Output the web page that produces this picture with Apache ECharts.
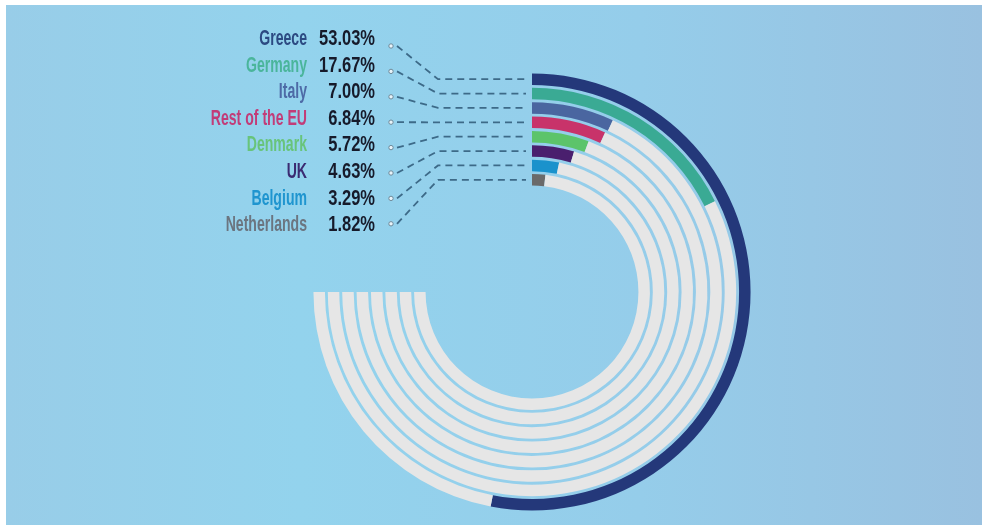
<!DOCTYPE html>
<html>
<head>
<meta charset="utf-8">
<script src="https://cdn.jsdelivr.net/npm/echarts@6/dist/echarts.min.js"></script>
<style>
  html, body { margin: 0; padding: 0; background: #ffffff; }
  #chart { width: 982px; height: 525px; }
</style>
</head>
<body>
<div id="chart"></div>
<script>
// Share of the total, by country (percent)
const countries = ['Greece', 'Germany', 'Italy', 'Rest of the EU', 'Denmark', 'UK', 'Belgium', 'Netherlands'];
const shares = [53.03, 17.67, 7.00, 6.84, 5.72, 4.63, 3.29, 1.82];
const shareLabels = ['53.03%', '17.67%', '7.00%', '6.84%', '5.72%', '4.63%', '3.29%', '1.82%'];
const barColors = ['#24387a', '#3aaa94', '#4a66a0', '#c8336a', '#5cc46a', '#4a1f6e', '#1a92cc', '#6a6a6a'];
const nameColors = ['#2c4a82', '#4ab59b', '#4d6aa6', '#c23c78', '#68c47a', '#3b2b72', '#1f95cf', '#6b7580'];
// Every ring's grey track runs three quarters of the way round (100 = full circle)
const trackLength = 75;

// rings are laid out from the centre outward, so the lists are reversed
const ringOrder = countries.slice().reverse();
const ringValues = shares.slice().reverse();
const ringColors = barColors.slice().reverse();

const chart = echarts.init(document.getElementById('chart'), null, { renderer: 'canvas' });

chart.setOption({
  backgroundColor: '#ffffff',
  animation: false,
  polar: { center: [532, 292], radius: [105, 220] },
  angleAxis: {
    type: 'value', min: 0, max: 100, startAngle: 90, clockwise: true,
    show: false
  },
  radiusAxis: { type: 'category', data: ringOrder, show: false },
  series: [
    {
      name: 'share', type: 'bar', coordinateSystem: 'polar', stack: 'ring',
      data: ringValues.map((v, i) => ({ value: v, itemStyle: { color: ringColors[i] } })),
      barWidth: '80%'
    },
    {
      // remaining grey part of each track
      name: 'rest', type: 'bar', coordinateSystem: 'polar', stack: 'ring',
      data: ringValues.map(v => +(trackLength - v).toFixed(2)),
      barWidth: '80%',
      itemStyle: { color: '#e6e6e6' },
      silent: true
    }
  ]
});

// Background panel, labels and dashed leaders
const graphics = [{
  type: 'rect', z: -10, silent: true,
  shape: { x: 6, y: 5, width: 976, height: 520 },
  style: {
    fill: new echarts.graphic.LinearGradient(0, 0, 1, 0, [
      { offset: 0, color: '#98cde8' },
      { offset: 0.3, color: '#93d3ed' },
      { offset: 0.65, color: '#95cdea' },
      { offset: 1, color: '#99c1e0' }
    ])
  }
}];

const rowTop = 39, rowStep = 26.6;
const dotTop = 46, dotStep = 25.4;
const fontFamily = '"Liberation Sans", Arial, sans-serif';

countries.forEach((name, i) => {
  const y = rowTop + i * rowStep;
  graphics.push({
    type: 'text', z: 10, x: 307, y: y, scaleX: 0.64,
    style: {
      x: 0, y: 0, text: name, align: 'right', verticalAlign: 'middle',
      fill: nameColors[i], font: 'bold 22px ' + fontFamily
    }
  });
  graphics.push({
    type: 'text', z: 10, x: 375, y: y, scaleX: 0.75,
    style: {
      x: 0, y: 0, text: shareLabels[i], align: 'right', verticalAlign: 'middle',
      fill: '#161a2a', font: 'bold 22px ' + fontFamily
    }
  });

  // leader line from the small dot to the start of the ring
  const ringIdx = ringOrder.indexOf(name);
  let pt = chart.convertToPixel({ polarIndex: 0 }, [ringIdx, 0]);
  if (!pt || isNaN(pt[1])) {
    pt = [532, 292 - (105 + (ringIdx + 0.5) * (115 / 8))];
  }
  const dotY = dotTop + i * dotStep;
  graphics.push({
    type: 'circle', z: 10, silent: true,
    shape: { cx: 391, cy: dotY, r: 2.2 },
    style: { fill: '#e8f4fa', stroke: '#6f8a9a', lineWidth: 1 }
  });
  graphics.push({
    type: 'polyline', z: 9, silent: true,
    shape: { points: [[397, dotY], [438, pt[1]], [pt[0] - 6, pt[1]]] },
    style: { stroke: '#3d6a88', lineWidth: 1.8, lineDash: [7, 5], fill: null }
  });
});

chart.setOption({ graphic: graphics });
</script>
</body>
</html>
